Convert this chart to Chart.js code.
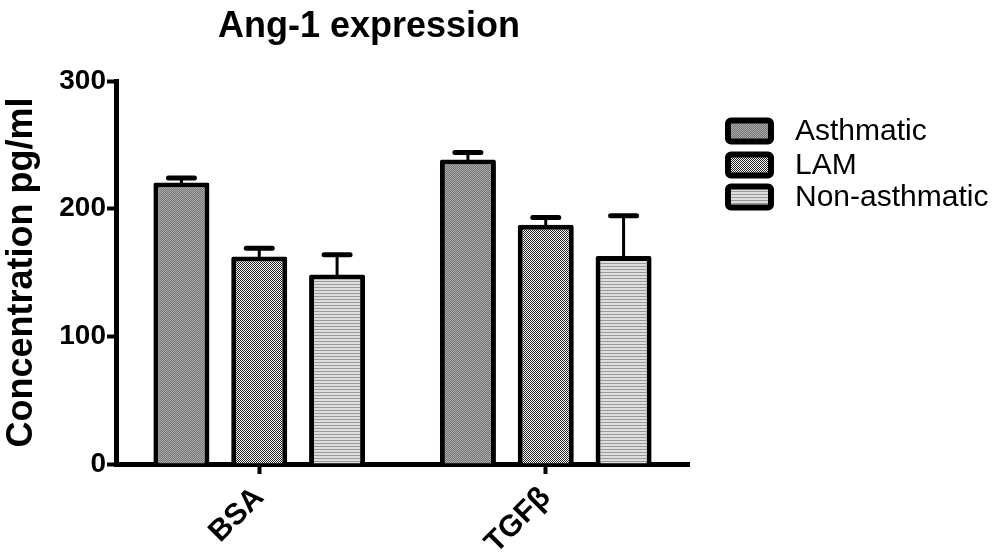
<!DOCTYPE html>
<html>
<head>
<meta charset="utf-8">
<script src="https://cdn.jsdelivr.net/npm/chart.js@4"></script>
<style>
  html, body { margin: 0; padding: 0; background: #fff; }
  #wrap { width: 1001px; height: 557px; }
</style>
</head>
<body>
<div id="wrap"><canvas id="angChart" width="1001" height="557"></canvas></div>
<script>
// Chart data
const categories = ["BSA", "TGF\u03B2"];
const seriesNames = ["Asthmatic", "LAM", "Non-asthmatic"];
const asthmatic = [220.5, 238.5];
const asthmaticErr = [3.5, 5.5];
const lam = [162.5, 187.5];
const lamErr = [6.5, 5.5];
const nonAsthmatic = [148.5, 163];
const nonAsthmaticErr = [15.5, 31.5];
const yTicks = [0, 100, 200, 300];

const FONT = "'Liberation Sans', Arial, sans-serif";

// Fill patterns like the Prism ones
function makePattern(size, draw) {
  let c = document.createElement("canvas");
  c.width = size; c.height = size;
  let g = c.getContext("2d");
  draw(g);
  return g.createPattern(c, "repeat");
}

const patAsthmatic = makePattern(2, g => {
  g.fillStyle = "#767676"; g.fillRect(0, 0, 2, 2);
  g.fillStyle = "#aaaaaa"; g.fillRect(0, 0, 1, 1); g.fillRect(1, 1, 1, 1);
});
const patLam = makePattern(2, g => {
  g.fillStyle = "#ffffff"; g.fillRect(0, 0, 2, 2);
  g.fillStyle = "#222222"; g.fillRect(0, 0, 1, 1); g.fillRect(1, 1, 1, 1);
});
const patNon = makePattern(3, g => {
  g.fillStyle = "#dedede"; g.fillRect(0, 0, 3, 3);
  g.fillStyle = "#9a9a9a"; g.fillRect(0, 2, 3, 1);
});

const errors = [asthmaticErr, lamErr, nonAsthmaticErr];

// Error bars (mean + SEM, upper only)
const errorBars = {
  id: "errorBars",
  afterDatasetsDraw(chart) {
    let ctx = chart.ctx;
    let y = chart.scales.y;
    ctx.save();
    ctx.strokeStyle = "#000";
    chart.data.datasets.forEach((ds, i) => {
      let meta = chart.getDatasetMeta(i);
      meta.data.forEach((bar, j) => {
        let top = y.getPixelForValue(ds.data[j] + errors[i][j]);
        ctx.lineWidth = 3;
        ctx.beginPath();
        ctx.moveTo(bar.x, bar.y + 3);
        ctx.lineTo(bar.x, top);
        ctx.stroke();
        ctx.lineWidth = 5;
        ctx.lineCap = "round";
        ctx.beginPath();
        ctx.moveTo(bar.x - 13, top);
        ctx.lineTo(bar.x + 13, top);
        ctx.stroke();
        ctx.lineCap = "butt";
      });
    });
    ctx.restore();
  }
};

// Title and legend drawn by hand to match placement
const decorations = {
  id: "decorations",
  afterDraw(chart) {
    let ctx = chart.ctx;
    ctx.save();
    ctx.fillStyle = "#000";
    ctx.font = "bold 36px " + FONT;
    ctx.textAlign = "center";
    ctx.textBaseline = "middle";
    ctx.fillText("Ang-1 expression", 369, 27);

    let rows = [131, 165, 197];
    chart.data.datasets.forEach((ds, i) => {
      let cy = rows[i];
      let x0 = 728, w = 43, h = 21;
      ctx.fillStyle = ds.backgroundColor;
      ctx.fillRect(x0, cy - h / 2, w, h);
      ctx.lineWidth = 6;
      ctx.strokeStyle = "#000";
      ctx.beginPath();
      ctx.roundRect(x0, cy - h / 2, w, h, 3);
      ctx.stroke();
      ctx.fillStyle = "#000";
      ctx.font = "30px " + FONT;
      ctx.textAlign = "left";
      ctx.textBaseline = "middle";
      ctx.fillText(ds.label, 795, cy + 1);
    });
    ctx.restore();
  }
};

function makeDataset(i, values, pattern) {
  return {
    label: seriesNames[i],
    data: values,
    backgroundColor: pattern,
    borderColor: "#000",
    borderWidth: 5,
    borderRadius: 2,
    borderSkipped: "bottom",
    barPercentage: 0.72,
    categoryPercentage: 0.815
  };
}

let ctx = document.getElementById("angChart").getContext("2d");
new Chart(ctx, {
  type: "bar",
  data: {
    labels: categories,
    datasets: [
      makeDataset(0, asthmatic, patAsthmatic),
      makeDataset(1, lam, patLam),
      makeDataset(2, nonAsthmatic, patNon)
    ]
  },
  options: {
    responsive: false,
    animation: false,
    layout: { padding: { top: 81, right: 312, bottom: 0, left: 0 } },
    plugins: {
      legend: { display: false },
      tooltip: { enabled: false },
      title: { display: false }
    },
    scales: {
      x: {
        afterFit: s => { s.height = 93; },
        grid: {
          offset: false,
          drawOnChartArea: false,
          color: "#000",
          tickLength: 10,
          tickWidth: 4
        },
        border: { display: true, color: "#000", width: 5 },
        ticks: {
          color: "#000",
          font: { family: FONT, size: 30, weight: "bold" },
          minRotation: 45,
          maxRotation: 45,
          padding: 6
        }
      },
      y: {
        min: 0,
        max: 300,
        afterFit: s => { s.width = 116; },
        afterBuildTicks: s => { s.ticks = yTicks.map(v => ({ value: v })); },
        grid: {
          color: "#000",
          drawOnChartArea: false,
          tickLength: 9,
          tickWidth: 4
        },
        border: { display: true, color: "#000", width: 5 },
        ticks: {
          color: "#000",
          font: { family: FONT, size: 28, weight: "bold" },
          padding: 1
        },
        title: {
          display: true,
          text: "Concentration pg/ml",
          color: "#000",
          font: { family: FONT, size: 36, weight: "bold" },
          padding: 0
        }
      }
    }
  },
  plugins: [errorBars, decorations]
});
</script>
</body>
</html>
